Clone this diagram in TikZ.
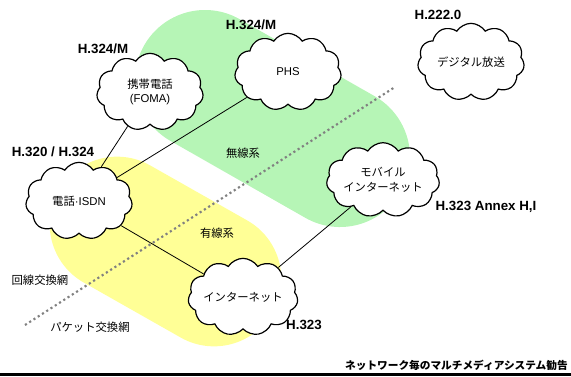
\documentclass[tikz,border=0pt]{standalone}
\usepackage{fontspec}
\setmainfont{Liberation Sans}
\newfontfamily\jp{Noto Sans CJK JP}
\usetikzlibrary{shapes.symbols}

\definecolor{wirelessgreen}{RGB}{182,245,182}
\definecolor{wiredyellow}{RGB}{255,255,150}

\tikzset{
  netcloud/.style={cloud,draw,fill=white,line width=0.9pt,cloud puffs=11,cloud puff arc=115,
    cloud ignores aspect,minimum width=80pt,minimum height=58pt,inner sep=0pt,
    align=center,font=\fontsize{8.5}{11}\selectfont},
  stdlabel/.style={font=\bfseries\fontsize{10}{12}\selectfont,inner sep=0pt},
  arealabel/.style={font=\jp\fontsize{8.5}{11}\selectfont,inner sep=0pt},
  link/.style={line width=0.6pt}
}

\begin{document}
\begin{tikzpicture}[x=0.75pt,y=-0.75pt]
\useasboundingbox (0,0) rectangle (571,376);

% The wireless and wired areas
\draw[wirelessgreen,line width=105pt,line cap=round] (205,80) -- (340,157);
\draw[wiredyellow,line width=101pt,line cap=round] (117,224) -- (214,279);

% Circuit / packet boundary
\coordinate (bnd-start) at (25,325);
\coordinate (bnd-end) at (395,87);
\draw[gray,line width=1.6pt,dash pattern=on 1.6pt off 2.2pt] (bnd-start) -- (bnd-end);

% Networks
\node[netcloud] (foma) at (150,92) {{\jp 携帯電話}\\(FOMA)};
\node[netcloud] (phs) at (288,72) {PHS};
\node[netcloud] (digital) at (471,62) {\jp デジタル放送};
\node[netcloud,minimum height=56pt] (mobile) at (383,180) {{\jp モバイル}\\{\jp インターネット}};
\node[netcloud] (isdn) at (79,201) {{\jp 電話}·ISDN};
\node[netcloud] (internet) at (243,297) {\jp インターネット};

% Links
\draw[link] (foma) -- (isdn);
\draw[link] (phs) -- (isdn);
\draw[link] (isdn) -- (internet);
\draw[link] (internet) -- (mobile);

% Recommendations
\node[stdlabel] (rec-foma) at (103,49) {H.324/M};
\node[stdlabel] (rec-phs) at (251,25) {H.324/M};
\node[stdlabel] (rec-digital) at (438,15) {H.222.0};
\node[stdlabel] (rec-isdn) at (53,152) {H.320 / H.324};
\node[stdlabel] (rec-mobile) at (486,207) {H.323 Annex H,I};
\node[stdlabel] (rec-internet) at (304,325) {H.323};

% Area labels
\node[arealabel] (wireless) at (243,153) {無線系};
\node[arealabel] (wired) at (217,233) {有線系};
\node[arealabel] (circuit) at (40,280) {回線交換網};
\node[arealabel] (packet) at (90,327) {パケット交換網};

% Title bar
\node[anchor=east,inner sep=0pt,font=\jp\bfseries\fontsize{8}{10}\selectfont] (title) at (568,365) {ネットワーク毎のマルチメディアシステム勧告};
\coordinate (bar-left) at (0,374.5);
\coordinate (bar-right) at (571,374.5);
\draw[line width=2.7pt] (bar-left) -- (bar-right);

\end{tikzpicture}
\end{document}
